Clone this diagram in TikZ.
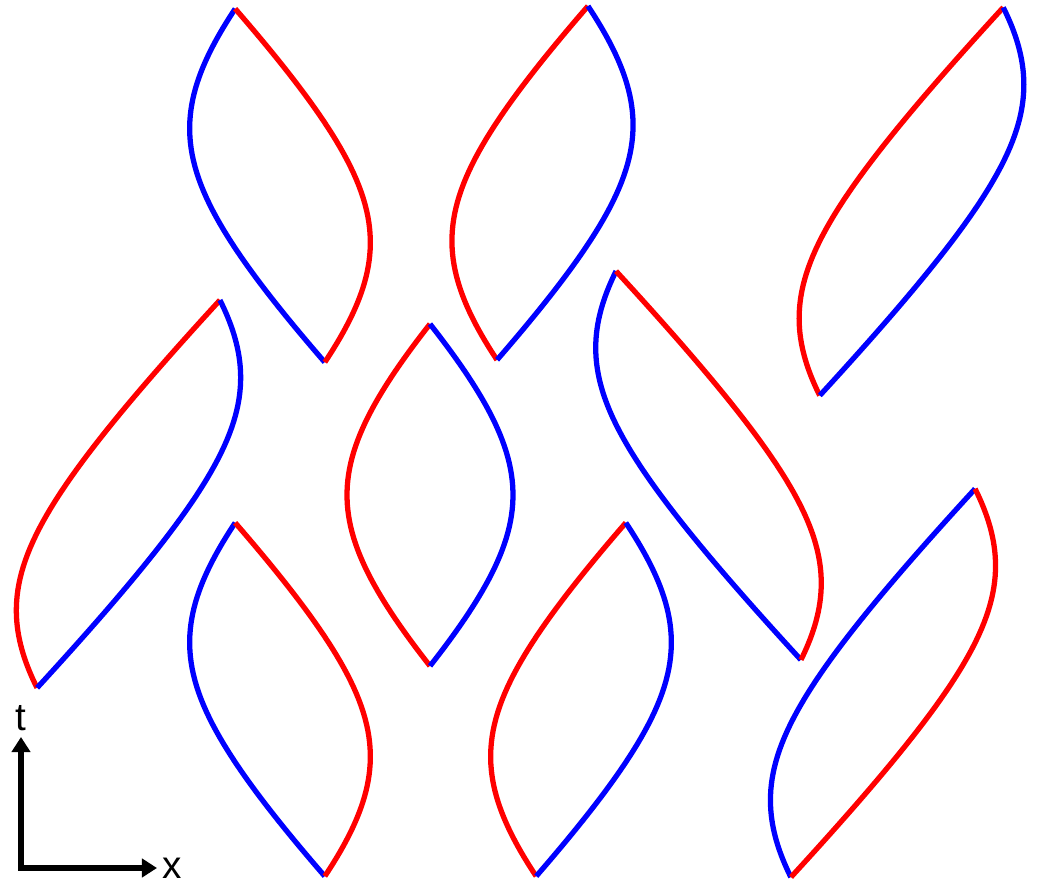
\documentclass[tikz,border=0pt]{standalone}
\usepackage{fontspec}
\setmainfont{Liberation Sans}
\usepackage{tikz}
\usetikzlibrary{arrows.meta}

% one leaf, boosted: centre, velocity, left side, right side
\newcommand{\drawleaf}[4]{%
  \pgfmathsetmacro{\lgam}{1/sqrt(1-(#2)^2)}
  \pgfmathsetmacro{\lgv}{\lgam*(#2)}
  \begin{scope}[shift={(#1)}, cm={\lgam,\lgv,\lgv,\lgam,(0,0)}]
    \draw[side, #3] plot[domain=-1.71:1.71, samples=60, variable=\s]
        ({100*(sqrt(1.8131+(\s)^2)-2.1765)}, {100*\s});
    \draw[side, #4] plot[domain=-1.71:1.71, samples=60, variable=\s]
        ({100*(2.1765-sqrt(1.8131+(\s)^2))}, {100*\s});
  \end{scope}
}

\begin{document}
\begin{tikzpicture}[
    x=0.01cm, y=-0.01cm,
    side/.style={line width=1.5pt},
    axis/.style={line width=1.5pt, {Triangle[length=4.3pt, width=5.2pt]}-{Triangle[length=4.3pt, width=5.2pt]}},
    lbl/.style={font=\fontsize{11}{13}\selectfont, inner sep=1.5pt},
]
\useasboundingbox (0,0) rectangle (1038,884);

% === top row ===
\drawleaf{280,185.5}{-0.2535}{blue}{red}
\drawleaf{542.5,183}{0.2571}{red}{blue}
\drawleaf{911.5,201.5}{0.4729}{red}{blue}

% === middle row ===
\drawleaf{128.5,494}{0.4716}{red}{blue}
\drawleaf{430,495}{0}{red}{blue}
\drawleaf{708.5,465.5}{-0.4756}{blue}{red}

% === bottom row ===
\drawleaf{280,699.5}{-0.2535}{blue}{red}
\drawleaf{581,699.5}{0.2535}{red}{blue}
\drawleaf{883,683}{0.4742}{blue}{red}

% === axes ===
\node[lbl, anchor=south] (t) at (21,737) {t};
\node[lbl, anchor=west] (x) at (157,868) {x};
\draw[axis] (t.south) |- (x.west);

\end{tikzpicture}
\end{document}
